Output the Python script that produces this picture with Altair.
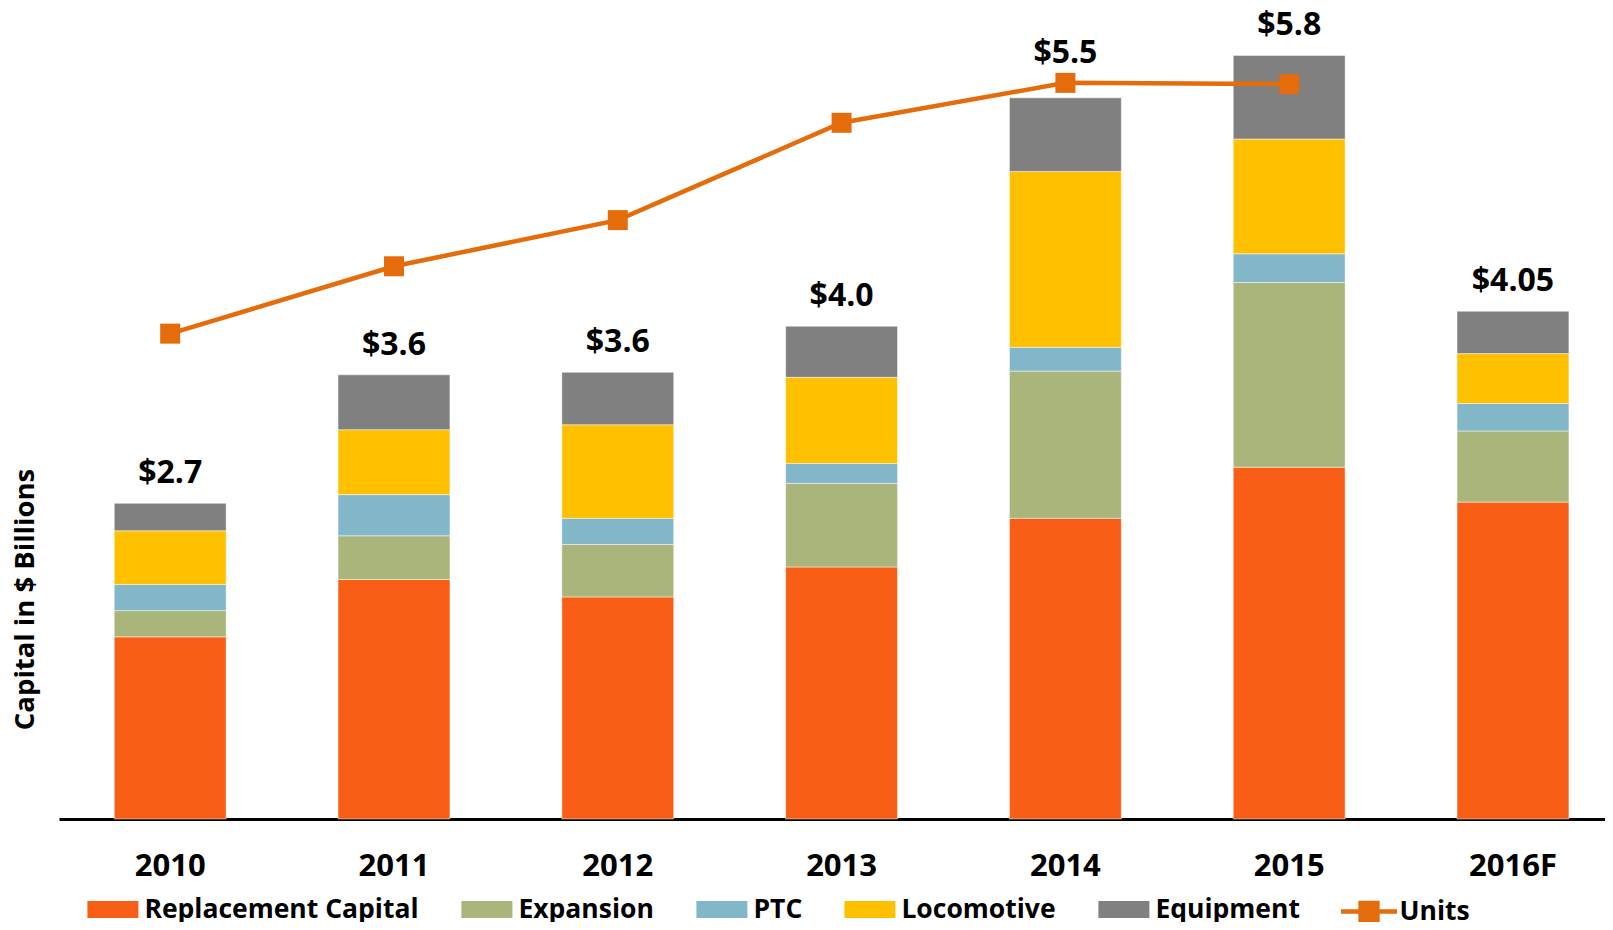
import altair as alt
import pandas as pd

years = ["2010", "2011", "2012", "2013", "2014", "2015", "2016F"]
categories = ["Replacement Capital", "Expansion", "PTC", "Locomotive", "Equipment"]
colors = ["#F85E16", "#A9B57A", "#82B7CA", "#FFC000", "#808080"]

replacement = [1.46, 1.92, 1.78, 2.02, 2.41, 2.82, 2.54]
expansion = [0.21, 0.35, 0.42, 0.67, 1.18, 1.48, 0.57]
ptc = [0.21, 0.33, 0.21, 0.16, 0.19, 0.23, 0.22]
locomotive = [0.43, 0.52, 0.75, 0.69, 1.41, 0.92, 0.40]
equipment = [0.22, 0.44, 0.42, 0.41, 0.59, 0.67, 0.34]
total_labels = ["$2.7", "$3.6", "$3.6", "$4.0", "$5.5", "$5.8", "$4.05"]

unit_years = ["2010", "2011", "2012", "2013", "2014", "2015"]
units = [3.89, 4.43, 4.80, 5.58, 5.90, 5.89]

FONT = "Open Sans"
LINE_COLOR = "#E46C0A"
Y_TITLE = "Capital in $ Billions"

series = [replacement, expansion, ptc, locomotive, equipment]
rows = []
for ci, (cat, vals) in enumerate(zip(categories, series)):
    for y, v in zip(years, vals):
        rows.append({"year": y, "category": cat, "value": v, "idx": ci})
bars_df = pd.DataFrame(rows)

unit_map = dict(zip(unit_years, units))
totals = [sum(s[i] for s in series) for i in range(len(years))]


def label_anchor(total, year):
    # a total label moves above the Units marker when the marker sits just above the bar
    u = unit_map.get(year)
    if u is not None and 0 < u - total < 0.5:
        return u
    return total


totals_df = pd.DataFrame({
    "year": years,
    "total": totals,
    "anchor": [label_anchor(t, y) for t, y in zip(totals, years)],
    "label": total_labels,
})

units_df = pd.DataFrame({"year": unit_years, "units": units, "series": ["Units"] * len(units)})

x_enc = alt.X(
    "year:N",
    sort=years,
    scale=alt.Scale(paddingInner=0.5, paddingOuter=0.204, align=0.605),
    axis=alt.Axis(
        title=None, labelAngle=0, ticks=False, tickSize=0, labelPadding=32,
        labelFont=FONT, labelFontSize=31, labelFontWeight="bold", labelColor="black",
        domainColor="black", domainWidth=3, grid=False,
    ),
)

y_scale = alt.Scale(domain=[0, 6.5], nice=False, zero=True)

rect_path = "M-1,-0.333H1V0.333H-1Z"
units_path = "M-1,0H1M-0.3,-0.3H0.3V0.3H-0.3Z"

bars = alt.Chart(bars_df).mark_bar(stroke="white", strokeWidth=0.8, strokeOpacity=0.6).encode(
    x=x_enc,
    y=alt.Y(
        "value:Q", stack="zero", scale=y_scale, title=Y_TITLE,
        axis=alt.Axis(
            title=Y_TITLE, labels=False, ticks=False, domain=False, grid=False,
            titleX=-34, titleY=591, titleAngle=270, titleAlign="center", titleBaseline="middle",
            titleFont=FONT, titleFontSize=27.5, titleFontWeight="bold", titleColor="black",
        ),
    ),
    fill=alt.Fill(
        "category:N",
        scale=alt.Scale(domain=categories, range=colors),
        legend=alt.Legend(
            orient="none", legendX=28.4, legendY=876, direction="horizontal", title=None,
            symbolType=rect_path, symbolSize=2601, symbolStrokeWidth=0, symbolOpacity=1,
            labelFont=FONT, labelFontSize=26.5, labelFontWeight="bold", labelColor="black",
            columnPadding=42, labelOffset=6, padding=0, labelLimit=0,
        ),
    ),
    order=alt.Order("idx:Q", sort="ascending"),
)

labels = alt.Chart(totals_df).mark_text(
    dy=-30, baseline="middle", align="center", font=FONT, fontSize=32, fontWeight="bold", color="black"
).encode(
    x=alt.X("year:N", sort=years),
    y=alt.Y("anchor:Q", scale=y_scale, title=Y_TITLE),
    text="label:N",
)

line = alt.Chart(units_df).mark_line(strokeWidth=4.5).encode(
    x=alt.X("year:N", sort=years),
    y=alt.Y("units:Q", scale=y_scale, title=Y_TITLE),
    stroke=alt.Stroke(
        "series:N",
        scale=alt.Scale(domain=["Units"], range=[LINE_COLOR]),
        legend=alt.Legend(
            orient="none", legendX=1279.5, legendY=873, title=None,
            symbolType=units_path, symbolSize=3136, symbolStrokeWidth=4.5,
            symbolFillColor=LINE_COLOR, symbolStrokeColor=LINE_COLOR, symbolOpacity=1,
            labelFont=FONT, labelFontSize=26.5, labelFontWeight="bold", labelColor="black",
            labelOffset=0, padding=0, labelLimit=0,
        ),
    ),
)

points = alt.Chart(units_df).mark_square(size=400, opacity=1, color=LINE_COLOR).encode(
    x=alt.X("year:N", sort=years),
    y=alt.Y("units:Q", scale=y_scale, title=Y_TITLE),
)

chart = alt.layer(bars, line, points, labels).properties(
    width=1546,
    height=811,
    autosize=alt.AutoSizeParams(type="none"),
    padding={"left": 51, "top": 0, "right": 0, "bottom": 103},
).configure_view(stroke=None)

chart.save("out.html", embed_options={"renderer": "svg", "actions": False})
